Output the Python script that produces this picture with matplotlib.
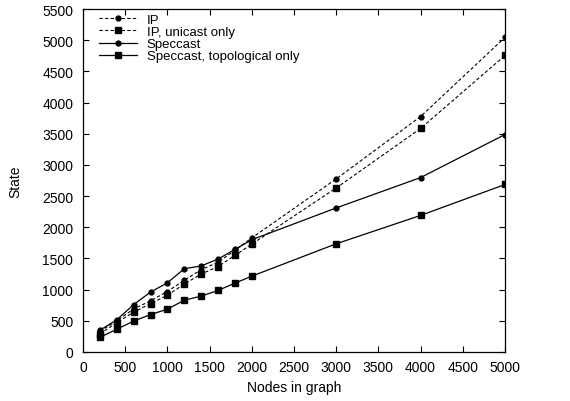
import matplotlib
matplotlib.use("Agg")
import matplotlib.pyplot as plt

nodes = [200, 400, 600, 800, 1000, 1200, 1400, 1600, 1800, 2000, 3000, 4000, 5000]
ip = [330, 500, 690, 820, 970, 1150, 1320, 1440, 1630, 1830, 2775, 3775, 5045]
ip_unicast = [290, 470, 640, 775, 910, 1090, 1250, 1370, 1550, 1730, 2630, 3585, 4755]
speccast = [350, 515, 760, 960, 1110, 1335, 1380, 1490, 1645, 1800, 2310, 2797, 3487]
speccast_topo = [235, 365, 495, 600, 687, 830, 896, 987, 1104, 1216, 1735, 2190, 2686]

labels = ["IP", "IP, unicast only", "Speccast", "Speccast, topological only"]
xticks = list(range(0, 5001, 500))
yticks = list(range(0, 5501, 500))

FS = 10
plt.rcParams['font.family'] = ['Liberation Sans', 'DejaVu Sans']
plt.rcParams['font.size'] = FS

fig = plt.figure(figsize=(5.70, 4.02), dpi=100)
ax = fig.add_axes([83/570, 1 - 353/402, (505 - 83)/570, (353 - 10)/402])

dash = (0, (3, 2))
ax.plot(nodes, ip, color='black', lw=0.8, linestyle=dash, marker='o', markersize=3.5, label=labels[0])
ax.plot(nodes, ip_unicast, color='black', lw=0.8, linestyle=dash, marker='s', markersize=5, label=labels[1])
ax.plot(nodes, speccast, color='black', lw=0.9, linestyle='-', marker='o', markersize=3.5, label=labels[2])
ax.plot(nodes, speccast_topo, color='black', lw=0.9, linestyle='-', marker='s', markersize=5, label=labels[3])

ax.set_xlim(0, 5000)
ax.set_ylim(0, 5500)
ax.set_xticks(xticks)
ax.set_yticks(yticks)
ax.tick_params(direction='in', top=True, right=True, length=4, width=0.8, labelsize=FS)
ax.tick_params(axis='y', pad=7)
ax.tick_params(axis='x', pad=6)
for s in ax.spines.values():
    s.set_linewidth(0.9)

ax.set_xlabel("Nodes in graph", fontsize=FS, labelpad=4)
ax.set_ylabel("State", fontsize=FS, labelpad=14)

leg = ax.legend(loc='upper left', frameon=False, fontsize=9.5, handlelength=2.9,
                handletextpad=0.7, labelspacing=0.0, borderaxespad=0.0,
                borderpad=0.0, bbox_to_anchor=(0.038, 0.987))

fig.savefig("out.png", dpi=100)
